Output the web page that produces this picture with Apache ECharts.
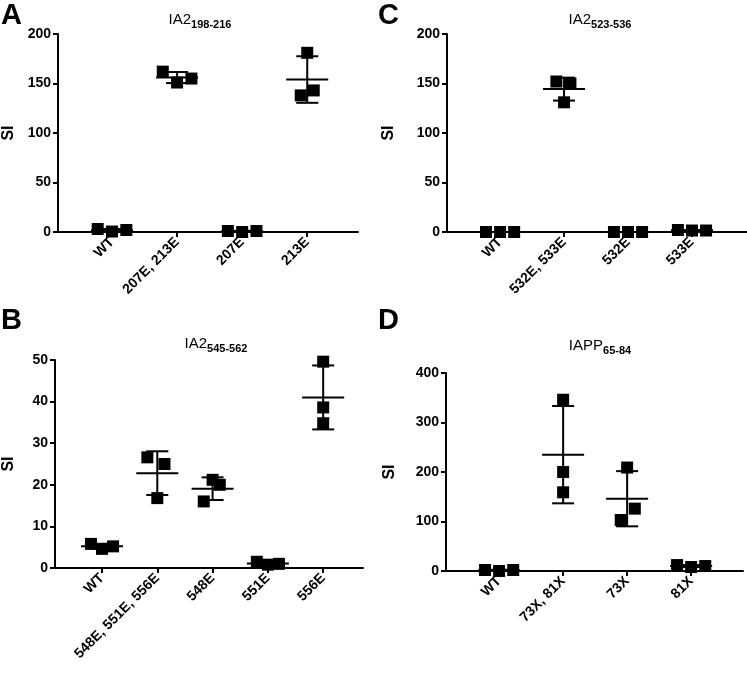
<!DOCTYPE html>
<html><head><meta charset="utf-8">
<script src="https://cdn.jsdelivr.net/npm/echarts@6/dist/echarts.min.js"></script>
<style>html,body{margin:0;padding:0;background:#fff}#c{width:747px;height:678px}</style>
</head><body><div id="c"></div>
<script>
// ---- data ----
const catsA = ['WT', '207E, 213E', '207E', '213E'];
const valsA = [[3, 0.5, 2], [162, 151, 155], [1, 0, 1], [181, 143, 138]];
const catsC = ['WT', '532E, 533E', '532E', '533E'];
const valsC = [[0, 0, 0], [152, 150, 131], [0, 0, 0], [2, 1.5, 1.5]];
const catsB = ['WT', '548E, 551E, 556E', '548E', '551E', '556E'];
const valsB = [[5.8, 4.6, 5.2], [26.6, 25, 16.8], [21.2, 20, 16], [1.5, 0.8, 1.0], [49.6, 38.6, 34.8]];
const catsD = ['WT', '73X, 81X', '73X', '81X'];
const valsD = [[2, 0, 2], [346, 200, 159], [209, 126, 103], [12, 8, 10]];
const ticksA = [0, 50, 100, 150, 200];
const ticksB = [0, 10, 20, 30, 40, 50];
const ticksD = [0, 100, 200, 300, 400];

// ---- style / layout ----
const J3 = [-0.22, 0, 0.22];
const panels = [
  {cats: catsA, vals: valsA, ticks: ticksA, grid: {left: 57, top: 34, width: 301, height: 198}, xr: [-0.83, 3.78],
   jit: [J3, J3, J3, [0, 0.1, -0.1]], nameGap: 41},
  {cats: catsC, vals: valsC, ticks: ticksA, grid: {left: 447, top: 34, width: 300, height: 198}, xr: [-0.83, 3.86],
   jit: [J3, [-0.12, 0.1, 0], J3, J3], nameGap: 50},
  {cats: catsB, vals: valsB, ticks: ticksB, grid: {left: 54, top: 360, width: 309, height: 208}, xr: [-0.85, 4.72],
   jit: [[-0.2, 0, 0.2], [-0.18, 0.13, 0], [0, 0.13, -0.16], [-0.2, 0, 0.2], [0, 0, 0]], nameGap: 38},
  {cats: catsD, vals: valsD, ticks: ticksD, grid: {left: 446, top: 373, width: 297, height: 198}, xr: [-0.83, 3.81],
   jit: [J3, [0, 0, 0], [0, 0.12, -0.1], J3], nameGap: 48}
];

const FONT = 'Liberation Sans, Arial, sans-serif';
const grids = [], xAxes = [], yAxes = [], series = [];

panels.forEach((p, i) => {
  grids.push(Object.assign({containLabel: false}, p.grid));
  const idx = p.cats.map((_, k) => k);
  xAxes.push({
    type: 'value', gridIndex: i, min: p.xr[0], max: p.xr[1],
    axisLine: {onZero: false, lineStyle: {color: '#000', width: 2}},
    axisTick: {show: true, customValues: idx, length: 5, lineStyle: {color: '#000', width: 2}},
    axisLabel: {customValues: idx, rotate: 45, margin: 8, color: '#000', fontWeight: 'bold', fontSize: 14, fontFamily: FONT,
      formatter: v => p.cats[Math.round(v)]},
    splitLine: {show: false}
  });
  yAxes.push({
    type: 'value', gridIndex: i, min: p.ticks[0], max: p.ticks[p.ticks.length - 1],
    interval: p.ticks[1] - p.ticks[0],
    name: 'SI', nameLocation: 'middle', nameGap: p.nameGap, nameRotate: 90,
    nameTextStyle: {color: '#000', fontWeight: 'bold', fontSize: 16, fontFamily: FONT},
    axisLine: {show: true, onZero: false, lineStyle: {color: '#000', width: 2}},
    axisTick: {show: true, length: 5, lineStyle: {color: '#000', width: 2}},
    axisLabel: {margin: 7, color: '#000', fontWeight: 'bold', fontSize: 14, fontFamily: FONT},
    splitLine: {show: false}
  });
  const pts = [];
  p.vals.forEach((arr, k) => arr.forEach((v, j) => pts.push([k + p.jit[k][j], v])));
  series.push({
    type: 'scatter', xAxisIndex: i, yAxisIndex: i, symbol: 'rect', symbolSize: 12, clip: false,
    itemStyle: {color: '#000', opacity: 1}, data: pts, silent: true
  });
  const stats = p.vals.map((arr, k) => {
    const m = arr.reduce((a, b) => a + b, 0) / arr.length;
    const sd = Math.sqrt(arr.reduce((a, b) => a + (b - m) * (b - m), 0) / (arr.length - 1));
    return [k, m, sd];
  });
  series.push({
    type: 'custom', xAxisIndex: i, yAxisIndex: i, clip: false, silent: true, data: stats,
    renderItem: (params, api) => {
      const x = api.value(0), m = api.value(1), sd = api.value(2);
      const c = api.coord([x, m]), hi = api.coord([x, m + sd]), lo = api.coord([x, m - sd]);
      const st = {stroke: '#000', lineWidth: 2};
      return {type: 'group', children: [
        {type: 'line', shape: {x1: c[0] - 21, y1: c[1], x2: c[0] + 21, y2: c[1]}, style: st},
        {type: 'line', shape: {x1: c[0], y1: hi[1], x2: c[0], y2: lo[1]}, style: st},
        {type: 'line', shape: {x1: c[0] - 11, y1: hi[1], x2: c[0] + 11, y2: hi[1]}, style: st},
        {type: 'line', shape: {x1: c[0] - 11, y1: lo[1], x2: c[0] + 11, y2: lo[1]}, style: st}
      ]};
    }
  });
});

const rich = {
  a: {fontSize: 15, fontWeight: 'normal', fontFamily: FONT, color: '#000', lineHeight: 20, verticalAlign: 'bottom'},
  b: {fontSize: 11, fontWeight: 'bold', fontFamily: FONT, color: '#000', lineHeight: 20, verticalAlign: 'bottom', padding: [0, 0, -3, 0]}
};
function ttl(main, sub, cx, top) {
  return {text: '{a|' + main + '}{b|' + sub + '}', left: cx, top: top, textAlign: 'center',
    textStyle: {fontWeight: 'normal', rich: rich}};
}
const letterStyle = {fontSize: 29, fontWeight: 'bold', fontFamily: FONT, color: '#000'};
const titles = [
  ttl('IA2', '198-216', 195, 2), ttl('IA2', '523-536', 595, 2),
  ttl('IA2', '545-562', 211, 326), ttl('IAPP', '65-84', 595, 328),
  {text: 'A', left: 1, top: 1, textStyle: letterStyle, padding: 0},
  {text: 'C', left: 378, top: 1, textStyle: letterStyle, padding: 0},
  {text: 'B', left: 1, top: 306, textStyle: letterStyle, padding: 0},
  {text: 'D', left: 378, top: 306, textStyle: letterStyle, padding: 0}
];

const chart = echarts.init(document.getElementById('c'));
chart.setOption({
  animation: false, backgroundColor: '#fff',
  title: titles, grid: grids, xAxis: xAxes, yAxis: yAxes, series: series
});
</script></body></html>
